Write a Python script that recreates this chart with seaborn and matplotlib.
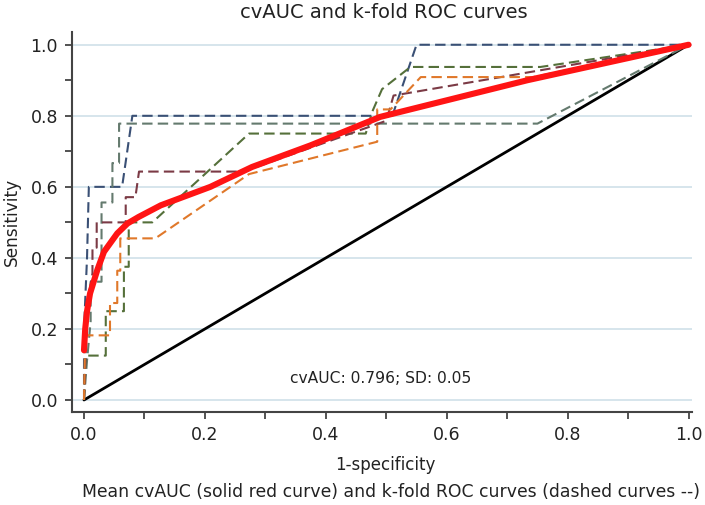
import numpy as np
import pandas as pd
import matplotlib
matplotlib.use("Agg")
import matplotlib.pyplot as plt
import seaborn as sns

# -------------------------
# Data
# -------------------------
fold1_x = [0, 0, 0.005, 0.008, 0.063, 0.08, 0.51, 0.55, 1.0]
fold1_y = [0, 0.2, 0.4, 0.6, 0.6, 0.8, 0.8, 1.0, 1.0]

fold2_x = [0, 0.005, 0.011, 0.011, 0.029, 0.029, 0.047, 0.047, 0.058, 0.058, 0.75, 1.0]
fold2_y = [0, 0.111, 0.222, 0.333, 0.333, 0.556, 0.556, 0.667, 0.667, 0.778, 0.778, 1.0]

fold3_x = [0, 0.003, 0.036, 0.036, 0.066, 0.066, 0.074, 0.074, 0.113, 0.273, 0.466,
           0.477, 0.493, 0.54, 0.755, 1.0]
fold3_y = [0, 0.125, 0.125, 0.25, 0.25, 0.375, 0.375, 0.5, 0.5, 0.75, 0.75,
           0.8125, 0.875, 0.9375, 0.9375, 1.0]

fold4_x = [0, 0.003, 0.007, 0.014, 0.014, 0.021, 0.021, 0.069, 0.069, 0.085, 0.091,
           0.264, 0.5, 0.512, 1.0]
fold4_y = [0, 0.143, 0.286, 0.357, 0.429, 0.429, 0.5, 0.5, 0.571, 0.571, 0.643,
           0.643, 0.786, 0.857, 1.0]

fold5_x = [0, 0.002, 0.043, 0.043, 0.055, 0.055, 0.06, 0.06, 0.118, 0.273, 0.485,
           0.485, 0.507, 0.557, 0.743, 1.0]
fold5_y = [0, 0.182, 0.182, 0.273, 0.273, 0.364, 0.364, 0.455, 0.455, 0.636, 0.727,
           0.818, 0.818, 0.909, 0.909, 1.0]

mean_x = [0, 0.002, 0.005, 0.01, 0.022, 0.033, 0.055, 0.072, 0.09, 0.127, 0.209,
          0.278, 0.375, 0.49, 0.733, 1.0]
mean_y = [0.14, 0.2, 0.25, 0.3, 0.366, 0.417, 0.469, 0.497, 0.515, 0.548, 0.6,
          0.656, 0.717, 0.797, 0.9, 1.0]

chance_x = [0, 1]
chance_y = [0, 1]

folds = [(fold1_x, fold1_y), (fold2_x, fold2_y), (fold3_x, fold3_y),
         (fold4_x, fold4_y), (fold5_x, fold5_y)]
fold_colors = ["#3a5075", "#647a6e", "#55703a", "#7b3a45", "#e0782a"]

cv_auc = 0.796
cv_sd = 0.05

# -------------------------
# Plot
# -------------------------
sns.set_style("ticks")
plt.rcParams['font.family'] = ['DejaVu Sans']

fig = plt.figure(figsize=(7.05, 5.05), dpi=100)
ax = fig.add_axes([0.102, 0.184, 0.879, 0.752])

for y in [0, 0.2, 0.4, 0.6, 0.8, 1.0]:
    ax.axhline(y, color="#d3e3ea", lw=1.3, zorder=0)

sns.lineplot(x=chance_x, y=chance_y, color="black", lw=2, ax=ax,
             estimator=None, sort=False)

for (fx, fy), c in zip(folds, fold_colors):
    sns.lineplot(x=fx, y=fy, color=c, lw=1.5, ax=ax, estimator=None,
                 sort=False, dashes=False, linestyle=(0, (5, 2.5)))

sns.lineplot(x=mean_x, y=mean_y, color="#ff1414", lw=4.4, ax=ax,
             estimator=None, sort=False)

ax.set_xlim(-0.02, 1.005)
ax.set_ylim(-0.034, 1.035)
ax.set_xticks(np.arange(0, 1.01, 0.2))
ax.set_xticks(np.arange(0, 1.01, 0.1), minor=True)
ax.set_yticks(np.arange(0, 1.01, 0.2))
ax.set_yticks(np.arange(0, 1.01, 0.1), minor=True)
ax.set_xticklabels([f"{v:.1f}" for v in np.arange(0, 1.01, 0.2)])
ax.set_yticklabels([f"{v:.1f}" for v in np.arange(0, 1.01, 0.2)])
ax.tick_params(which="both", direction="out", length=5, width=1.3,
               color="#444444", labelsize=12.5, labelcolor="#222222", pad=5)
sns.despine(ax=ax)
for s in ["left", "bottom"]:
    ax.spines[s].set_color("#444444")
    ax.spines[s].set_linewidth(1.5)

ax.set_xlabel("")
ax.set_ylabel("")
ax.text(0.49, 0.06, f"cvAUC: {cv_auc}; SD: {cv_sd}", ha="center", va="center",
        fontsize=11.2, color="#222222")

fig.text(0.545, 0.975, "cvAUC and k-fold ROC curves", ha="center", va="center",
         fontsize=14, color="#222222")
fig.text(0.546, 0.079, "1-specificity", ha="center", va="center",
         fontsize=12, color="#222222")
fig.text(0.555, 0.026, "Mean cvAUC (solid red curve) and k-fold ROC curves (dashed curves --)",
         ha="center", va="center", fontsize=12.4, color="#222222")
fig.text(0.017, 0.56, "Sensitivity", ha="center", va="center", rotation=90,
         fontsize=12.2, color="#222222")

fig.savefig("out.png", dpi=100, facecolor="white")
